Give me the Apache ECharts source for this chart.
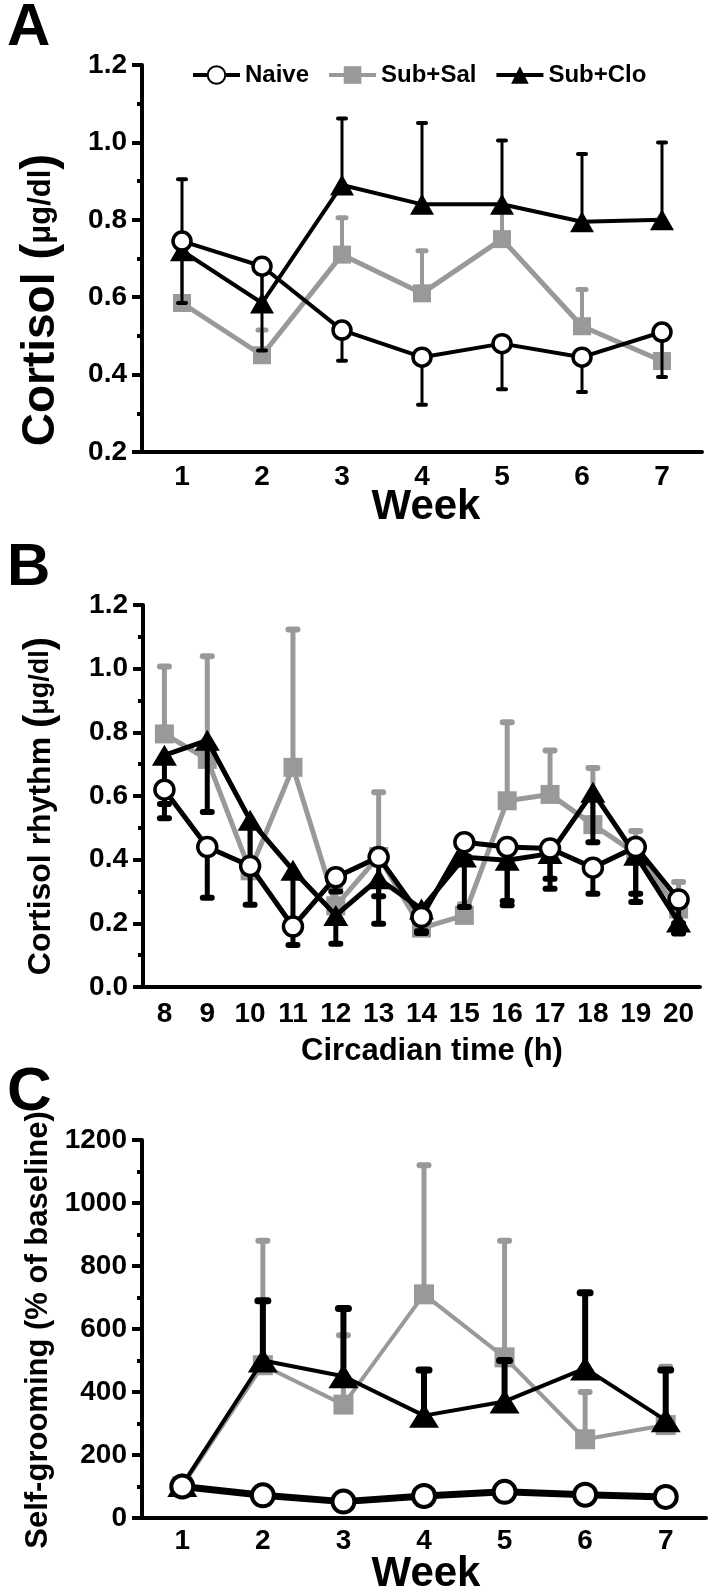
<!DOCTYPE html>
<html><head><meta charset="utf-8">
<script src="https://cdn.jsdelivr.net/npm/echarts@6/dist/echarts.min.js"></script>
<style>html,body{margin:0;padding:0;background:#fff}#c{width:714px;height:1594px}</style>
</head><body><div id="c"></div>
<script>
// ---------- data ----------
const weeks = ['1','2','3','4','5','6','7'];
const hours = ['8','9','10','11','12','13','14','15','16','17','18','19','20'];
const yTicksA = [0.2,0.4,0.6,0.8,1.0,1.2];
const yTicksB = [0,0.2,0.4,0.6,0.8,1.0,1.2];
const yTicksC = [0,200,400,600,800,1000,1200];
const seriesNames = ['Naive','Sub+Sal','Sub+Clo'];

// Panel A: cortisol by week (means, error-bar end values)
const A_naive     = [0.745,0.68,0.515,0.445,0.48,0.445,0.51];
const A_naive_err = [0.585,0.462,0.436,0.322,0.362,0.355,0.394];
const A_sal       = [0.585,0.45,0.71,0.61,0.75,0.525,0.435];
const A_sal_err   = [0.73,0.515,0.805,0.72,0.83,0.62,0.515];
const A_clo       = [0.72,0.585,0.89,0.84,0.84,0.795,0.80];
const A_clo_err   = [0.905,0.66,1.062,1.05,1.005,0.97,1.0];

// Panel B: cortisol rhythm by circadian hour
const B_naive     = [0.62,0.44,0.38,0.19,0.345,0.408,0.22,0.455,0.44,0.435,0.375,0.44,0.275];
const B_naive_err = [0.53,0.28,0.258,0.132,0.30,0.285,0.17,0.41,0.27,0.34,0.293,0.293,0.20];
const B_sal       = [0.795,0.715,0.365,0.69,0.255,0.41,0.185,0.225,0.585,0.605,0.51,0.42,0.245];
const B_sal_err   = [1.007,1.039,0.51,1.123,0.31,0.612,0.247,0.26,0.832,0.743,0.688,0.49,0.33];
const B_clo       = [0.728,0.775,0.524,0.367,0.225,0.34,0.245,0.408,0.398,0.419,0.612,0.414,0.204];
const B_clo_err   = [0.575,0.55,0.365,0.2,0.136,0.199,0.175,0.251,0.257,0.309,0.455,0.267,0.168];

// Panel C: self-grooming by week
const C_naive     = [100,72,52,70,83,74,67];
const C_naive_err = [null,90,77,88,110,93,90];
const C_sal       = [100,485,360,710,510,250,295];
const C_sal_err   = [120,880,580,1120,880,400,480];
const C_clo       = [105,500,450,325,370,475,310];
const C_clo_err   = [null,690,665,470,500,715,470];

// ---------- styling ----------
const FONT = 'Liberation Sans, Arial, sans-serif';
const GRAY = '#999999';
const BLACK = '#000000';
const TICK_FS = 28;

const chart = echarts.init(document.getElementById('c'), null, {renderer:'canvas'});

function errData(mean, end){
  const out = [];
  mean.forEach((m,i)=>{ if(end[i]!==null && end[i]!==undefined) out.push([i, m, end[i]]); });
  return out;
}
function errSeries(idx, mean, end, color, lw, capW, z){
  return {
    type:'custom', xAxisIndex:idx, yAxisIndex:idx, z:z, silent:true,
    data: errData(mean, end),
    renderItem: function(params, api){
      const x = api.value(0);
      const p0 = api.coord([x, api.value(1)]);
      const p1 = api.coord([x, api.value(2)]);
      return {type:'group', children:[
        {type:'line', shape:{x1:p0[0],y1:p0[1],x2:p1[0],y2:p1[1]}, style:{stroke:color, lineWidth:lw}},
        {type:'line', shape:{x1:p1[0]-capW/2,y1:p1[1],x2:p1[0]+capW/2,y2:p1[1]}, style:{stroke:color, lineWidth:lw+1, lineCap:'round'}}
      ]};
    }
  };
}
function lineSeries(idx, name, data, kind, opt){
  const s = {type:'line', name:name, xAxisIndex:idx, yAxisIndex:idx, data:data, silent:true, animation:false};
  if(kind==='naive'){
    Object.assign(s,{symbol:'circle', symbolSize:opt.size, z:6,
      itemStyle:{color:'#ffffff', borderColor:BLACK, borderWidth:opt.bw},
      lineStyle:{color:BLACK, width:opt.lw}});
  } else if(kind==='sal'){
    Object.assign(s,{symbol:'rect', symbolSize:opt.size, z:2,
      itemStyle:{color:GRAY},
      lineStyle:{color:GRAY, width:opt.lw}});
  } else {
    Object.assign(s,{symbol:'triangle', symbolSize:opt.size, z:4,
      itemStyle:{color:BLACK},
      lineStyle:{color:BLACK, width:opt.lw}});
  }
  return s;
}
function xAxisCfg(idx, cats, fs, margin){
  return {type:'category', gridIndex:idx, data:cats, boundaryGap:true,
    axisLine:{lineStyle:{color:BLACK, width:4}},
    axisTick:{alignWithLabel:true, length:8, lineStyle:{color:BLACK, width:4}},
    axisLabel:{color:BLACK, fontSize:fs, fontWeight:'bold', fontFamily:FONT, margin:margin},
    splitLine:{show:false}};
}
function yAxisCfg(idx, ticks, fs, dec){
  return {type:'value', gridIndex:idx, min:ticks[0], max:ticks[ticks.length-1], interval:ticks[1]-ticks[0],
    axisLine:{show:true, lineStyle:{color:BLACK, width:4}},
    axisTick:{show:true, length:10, lineStyle:{color:BLACK, width:4}},
    minorTick:{show:true, splitNumber:2, length:5, lineStyle:{color:BLACK, width:4}},
    axisLabel:{color:BLACK, fontSize:fs, fontWeight:'bold', fontFamily:FONT, margin:15,
      formatter: v => dec ? v.toFixed(1) : String(Math.round(v))},
    splitLine:{show:false}};
}

const option = {
  backgroundColor:'#ffffff',
  animation:false,
  legend:{
    data:seriesNames, left:191, top:63, padding:0, itemWidth:47, itemHeight:22, itemGap:18,
    lineStyle:{width:4},
    textStyle:{color:BLACK, fontSize:24, fontWeight:'bold', fontFamily:FONT},
    selectedMode:false
  },
  grid:[
    {left:142, right:12, top:65, height:387},
    {left:143, right:14, top:605, height:382},
    {left:142, right:8, top:1140, height:378}
  ],
  xAxis:[ xAxisCfg(0, weeks, TICK_FS, 11), xAxisCfg(1, hours, TICK_FS, 13), xAxisCfg(2, weeks, TICK_FS, 9) ],
  yAxis:[ yAxisCfg(0, yTicksA, TICK_FS, true), yAxisCfg(1, yTicksB, TICK_FS, true), yAxisCfg(2, yTicksC, TICK_FS, false) ],
  series:[
    // Panel A
    errSeries(0, A_sal, A_sal_err, GRAY, 4, 8, 1),
    lineSeries(0, 'Sub+Sal', A_sal, 'sal', {size:18, lw:5}),
    errSeries(0, A_clo, A_clo_err, BLACK, 3, 8, 3),
    lineSeries(0, 'Sub+Clo', A_clo, 'clo', {size:[24,21], lw:4}),
    errSeries(0, A_naive, A_naive_err, BLACK, 3, 8, 5),
    lineSeries(0, 'Naive', A_naive, 'naive', {size:18, lw:4, bw:3.5}),
    // Panel B
    errSeries(1, B_sal, B_sal_err, GRAY, 5, 9, 1),
    lineSeries(1, 'Sub+Sal', B_sal, 'sal', {size:19, lw:5}),
    errSeries(1, B_clo, B_clo_err, BLACK, 5, 9, 3),
    lineSeries(1, 'Sub+Clo', B_clo, 'clo', {size:[25,21], lw:5}),
    errSeries(1, B_naive, B_naive_err, BLACK, 5, 9, 5),
    lineSeries(1, 'Naive', B_naive, 'naive', {size:19, lw:5, bw:3.5}),
    // Panel C
    errSeries(2, C_sal, C_sal_err, GRAY, 5, 9, 1),
    lineSeries(2, 'Sub+Sal', C_sal, 'sal', {size:20, lw:4}),
    errSeries(2, C_clo, C_clo_err, BLACK, 6, 10, 3),
    lineSeries(2, 'Sub+Clo', C_clo, 'clo', {size:[30,24], lw:4}),
    errSeries(2, C_naive, C_naive_err, BLACK, 5, 9, 5),
    lineSeries(2, 'Naive', C_naive, 'naive', {size:22, lw:7, bw:4})
  ],
  graphic:[
    {type:'text', x:7, y:28, style:{text:'A', font:'bold 60px '+FONT, fill:BLACK, textVerticalAlign:'middle'}},
    {type:'text', x:7, y:568, style:{text:'B', font:'bold 60px '+FONT, fill:BLACK, textVerticalAlign:'middle'}},
    {type:'text', x:7, y:1093, style:{text:'C', font:'bold 62px '+FONT, fill:BLACK, textVerticalAlign:'middle'}},
    {type:'text', x:426, y:507, style:{text:'Week', font:'bold 42px '+FONT, fill:BLACK, textAlign:'center', textVerticalAlign:'middle'}},
    {type:'text', x:432, y:1051, style:{text:'Circadian time (h)', font:'bold 31px '+FONT, fill:BLACK, textAlign:'center', textVerticalAlign:'middle'}},
    {type:'text', x:426, y:1574, style:{text:'Week', font:'bold 42px '+FONT, fill:BLACK, textAlign:'center', textVerticalAlign:'middle'}},
    {type:'text', x:41, y:300, rotation:Math.PI/2, style:{
      text:'{a|Cortisol }{p|(}{u|μg/dl}{p|)}', textAlign:'center', textVerticalAlign:'middle', fill:BLACK,
      rich:{a:{font:'bold 46px '+FONT, fill:BLACK}, p:{font:'bold 48px '+FONT, fill:BLACK}, u:{font:'bold 31px '+FONT, fill:BLACK}}}},
    {type:'text', x:41, y:806, rotation:Math.PI/2, style:{
      text:'{a|Cortisol rhythm }{p|(}{u|μg/dl}{p|)}', textAlign:'center', textVerticalAlign:'middle', fill:BLACK,
      rich:{a:{font:'bold 32px '+FONT, fill:BLACK}, p:{font:'bold 40px '+FONT, fill:BLACK}, u:{font:'bold 27px '+FONT, fill:BLACK}}}},
    {type:'text', x:38, y:1330, rotation:Math.PI/2, style:{
      text:'Self-grooming (% of baseline)', font:'bold 31px '+FONT, fill:BLACK, textAlign:'center', textVerticalAlign:'middle'}}
  ]
};
chart.setOption(option);
</script>
</body></html>
